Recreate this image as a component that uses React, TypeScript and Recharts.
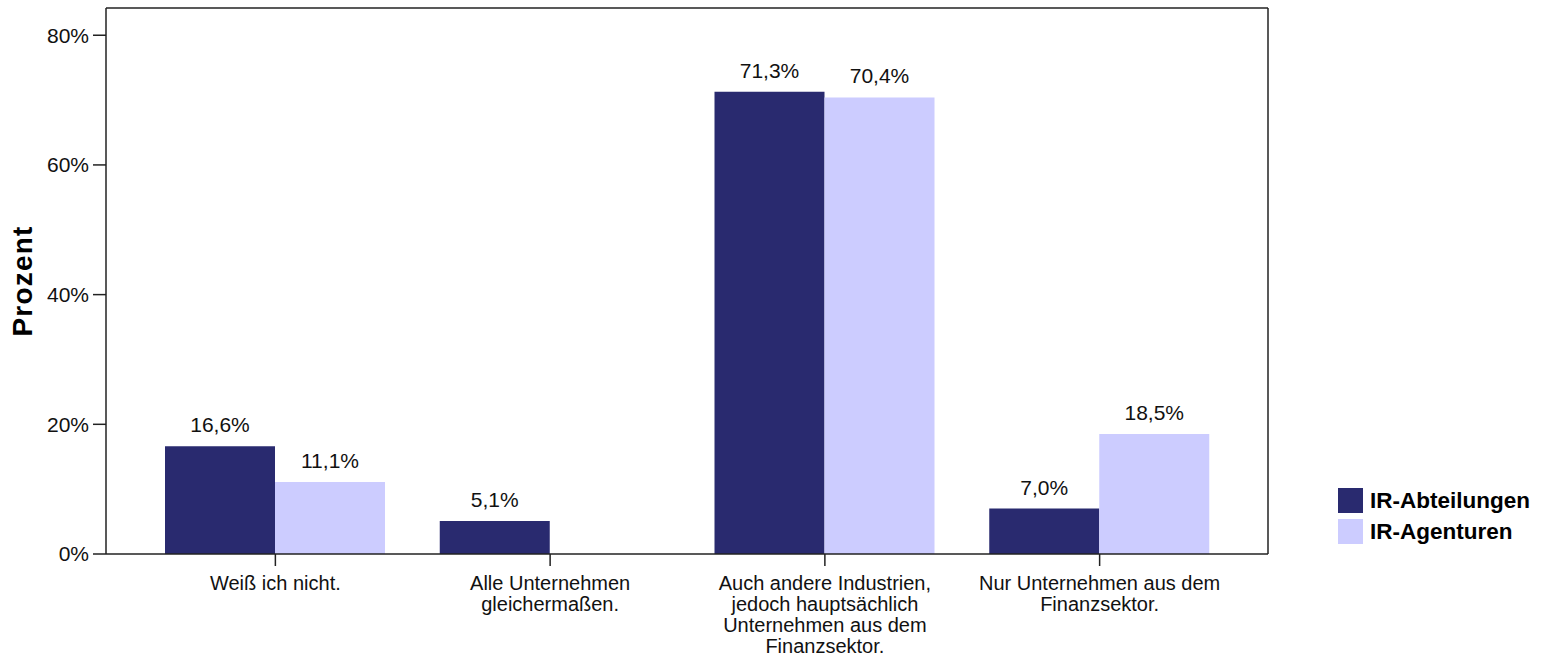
import React from 'react';
import { BarChart, Bar, XAxis, YAxis, LabelList, Legend, ReferenceLine } from 'recharts';

const categories = [
  'Weiß ich nicht.',
  'Alle Unternehmen\ngleichermaßen.',
  'Auch andere Industrien,\njedoch hauptsächlich\nUnternehmen aus dem\nFinanzsektor.',
  'Nur Unternehmen aus dem\nFinanzsektor.',
];
const abteilungen = [16.6, 5.1, 71.3, 7.0];
const agenturen: (number | null)[] = [11.1, null, 70.4, 18.5];
const yTicks = [0, 20, 40, 60, 80];
const yMax = 84.2;
const seriesNames = ['IR-Abteilungen', 'IR-Agenturen'];

const data = categories.map((name, i) => ({
  name,
  abt: abteilungen[i],
  age: agenturen[i],
}));

const FONT = '"Liberation Sans", Arial, sans-serif';
const DARK = '#292A6F';
const LIGHT = '#CCCCFF';
const AXIS = '#222';

const fmt = (v: number) => v.toFixed(1).replace('.', ',') + '%';

const XTick = (props: any) => {
  const { x, y, payload } = props;
  const lines = String(payload.value).split('\n');
  return (
    <text x={x} y={y} textAnchor="middle" fontFamily={FONT} fontSize={20} fill="#111">
      {lines.map((l, i) => (
        <tspan key={i} x={x} dy={i === 0 ? 22 : 21}>
          {l}
        </tspan>
      ))}
    </text>
  );
};

const BarLabel = (props: any) => {
  const { x, y, width, value } = props;
  if (value === null || value === undefined) return null;
  return (
    <text x={x + width / 2} y={y - 14} textAnchor="middle" fontFamily={FONT} fontSize={21} fill="#111">
      {fmt(Number(value))}
    </text>
  );
};

const YLabel = (props: any) => {
  const { viewBox } = props;
  const cy = viewBox.y + viewBox.height / 2;
  const cx = 32;
  return (
    <text
      x={cx}
      y={cy}
      transform={`rotate(-90 ${cx} ${cy})`}
      textAnchor="middle"
      fontFamily={FONT}
      fontSize={28}
      fontWeight="bold"
      letterSpacing={1.2}
      fill="#000"
    >
      Prozent
    </text>
  );
};

const LegendContent = () => (
  <div style={{ fontFamily: FONT }}>
    {seriesNames.map((n, i) => (
      <div key={n} style={{ display: 'flex', alignItems: 'center', height: 31 }}>
        <div style={{ width: 25, height: 25, background: i === 0 ? DARK : LIGHT, marginRight: 7 }} />
        <span style={{ fontSize: 22.5, fontWeight: 'bold', color: '#000' }}>{n}</span>
      </div>
    ))}
  </div>
);

export default function App() {
  return (
    <div style={{ position: 'absolute', left: 0, top: 0, width: 1550, height: 656, background: '#fff' }}>
      <BarChart
        width={1550}
        height={656}
        data={data}
        margin={{ top: 8, right: 281, bottom: 0, left: 0 }}
        barCategoryGap={27}
        barGap={0}
      >
        <XAxis
          dataKey="name"
          tick={<XTick />}
          tickSize={12}
          tickMargin={2}
          height={102}
          interval={0}
          padding={{ left: 32, right: 31 }}
          axisLine={{ stroke: AXIS, strokeWidth: 1.5 }}
          tickLine={{ stroke: AXIS, strokeWidth: 1.5 }}
        />
        <YAxis
          domain={[0, yMax]}
          ticks={yTicks}
          tickFormatter={(v: number) => `${v}%`}
          width={106}
          tickSize={13}
          tickMargin={4}
          tick={{ fontFamily: FONT, fontSize: 21, fill: '#111' }}
          axisLine={{ stroke: AXIS, strokeWidth: 1.5 }}
          tickLine={{ stroke: AXIS, strokeWidth: 1.5 }}
          allowDataOverflow
          label={<YLabel />}
        />
        <YAxis
          yAxisId="frame"
          orientation="right"
          type="number"
          domain={[0, 1]}
          width={1}
          tick={false}
          tickLine={false}
          axisLine={{ stroke: AXIS, strokeWidth: 1.5 }}
        />
        <ReferenceLine y={yMax} stroke={AXIS} strokeWidth={1.5} ifOverflow="visible" />
        <ReferenceLine yAxisId="frame" y={0} stroke="none" ifOverflow="visible" />
        <Legend
          layout="vertical"
          align="center"
          verticalAlign="middle"
          content={<LegendContent />}
          wrapperStyle={{ left: 1338, top: 485, width: 210, height: 62 }}
        />
        <Bar dataKey="abt" name={seriesNames[0]} fill={DARK} isAnimationActive={false}>
          <LabelList dataKey="abt" content={<BarLabel />} />
        </Bar>
        <Bar dataKey="age" name={seriesNames[1]} fill={LIGHT} isAnimationActive={false}>
          <LabelList dataKey="age" content={<BarLabel />} />
        </Bar>
      </BarChart>
    </div>
  );
}
